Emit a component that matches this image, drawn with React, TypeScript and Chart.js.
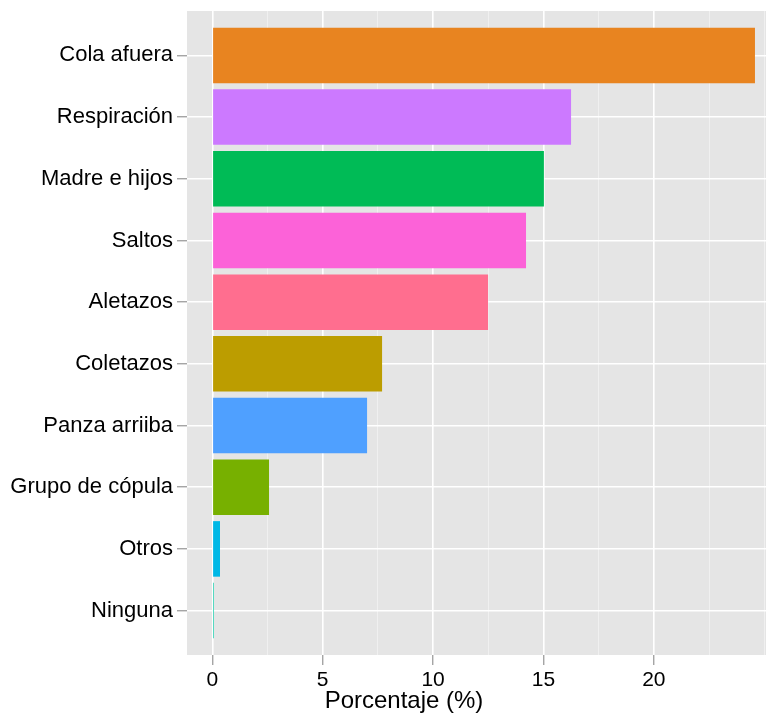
import React, { useEffect, useRef } from "react";
import { Chart, registerables } from "chart.js";

Chart.register(...registerables);

const categories = [
  "Cola afuera",
  "Respiración",
  "Madre e hijos",
  "Saltos",
  "Aletazos",
  "Coletazos",
  "Panza arriiba",
  "Grupo de cópula",
  "Otros",
  "Ninguna",
];
const percentages = [24.58, 16.25, 15.02, 14.21, 12.49, 7.69, 7.01, 2.57, 0.35, 0.07];
const barColors = [
  "#E88420",
  "#CC79FF",
  "#00BB56",
  "#FC62D8",
  "#FF6E8F",
  "#BC9D00",
  "#4FA0FF",
  "#77B000",
  "#00B8E6",
  "#20CFAF",
];
const xTickValues = [0, 2.5, 5, 7.5, 10, 12.5, 15, 17.5, 20, 22.5, 25];
const xLabeledTicks = [0, 5, 10, 15, 20];
const xTitle = "Porcentaje (%)";

const FONT = "'Liberation Sans', Arial, Helvetica, sans-serif";

export default function App() {
  const ref = useRef<HTMLCanvasElement | null>(null);
  useEffect(() => {
    if (!ref.current) return;
    const bgPlugin = {
      id: "panelBg",
      beforeDraw(chart: any) {
        const { ctx, chartArea } = chart;
        ctx.save();
        ctx.fillStyle = "#E5E5E5";
        ctx.fillRect(chartArea.left, chartArea.top, chartArea.right - chartArea.left, chartArea.bottom - chartArea.top);
        ctx.restore();
      },
      afterDraw(chart: any) {
        const { ctx } = chart;
        ctx.save();
        ctx.fillStyle = "#000";
        ctx.font = `24px ${FONT}`;
        ctx.textAlign = "center";
        ctx.textBaseline = "alphabetic";
        ctx.fillText(xTitle, 404, 708);
        ctx.restore();
      },
    };
    const chart = new Chart(ref.current, {
      type: "bar",
      data: {
        datasets: [
          {
            data: percentages.map((v, i) => ({ x: v, y: i })),
            backgroundColor: barColors,
            borderWidth: 0,
            barPercentage: 0.9,
            categoryPercentage: 1,
          },
        ],
      },
      options: {
        indexAxis: "y",
        animation: false,
        responsive: true,
        maintainAspectRatio: false,
        layout: { padding: { top: 11, right: 2, left: 0, bottom: 0 } },
        plugins: { legend: { display: false }, tooltip: { enabled: false } },
        scales: {
          x: {
            type: "linear",
            min: -1.146,
            max: 25.08,
            offset: false,
            afterBuildTicks(scale: any) {
              scale.ticks = xTickValues.map((v) => ({ value: v }));
            },
            afterFit(scale: any) {
              scale.height = 60;
              scale.paddingLeft = 0;
              scale.paddingRight = 0;
            },
            border: { display: false },
            grid: {
              offset: false,
              color: (c: any) => (xLabeledTicks.includes(c.tick?.value) ? "#FFFFFF" : "#F2F2F2"),
              lineWidth: (c: any) => (xLabeledTicks.includes(c.tick?.value) ? 1.6 : 0.8),
              tickColor: (c: any) => (xLabeledTicks.includes(c.tick?.value) ? "#7F7F7F" : "rgba(0,0,0,0)"),
              tickWidth: 1,
              tickLength: 10,
              drawTicks: true,
            },
            ticks: {
              autoSkip: false,
              maxRotation: 0,
              padding: 3,
              color: "#000",
              font: { family: FONT, size: 21 },
              callback: (v: any) => (xLabeledTicks.includes(Number(v)) ? String(v) : ""),
            },
          },
          y: {
            type: "linear",
            reverse: true,
            min: -0.72,
            max: 9.72,
            offset: false,
            afterBuildTicks(scale: any) {
              scale.ticks = categories.map((_, i) => ({ value: i }));
            },
            afterFit(scale: any) {
              scale.width = 187;
              scale.paddingTop = 0;
              scale.paddingBottom = 0;
            },
            border: { display: false },
            grid: {
              offset: false,
              color: "#FFFFFF",
              lineWidth: 1.6,
              tickColor: "#7F7F7F",
              tickWidth: 1,
              tickLength: 10,
            },
            ticks: {
              autoSkip: false,
              padding: 4,
              color: "#000",
              font: { family: FONT, size: 22 },
              callback: (v: any) => categories[Number(v)] ?? "",
            },
          },
        },
      },
      plugins: [bgPlugin],
    });
    return () => chart.destroy();
  }, []);
  return (
    <div style={{ position: "fixed", left: 0, top: 0, width: 768, height: 715, background: "#fff" }}>
      <canvas ref={ref} />
    </div>
  );
}
